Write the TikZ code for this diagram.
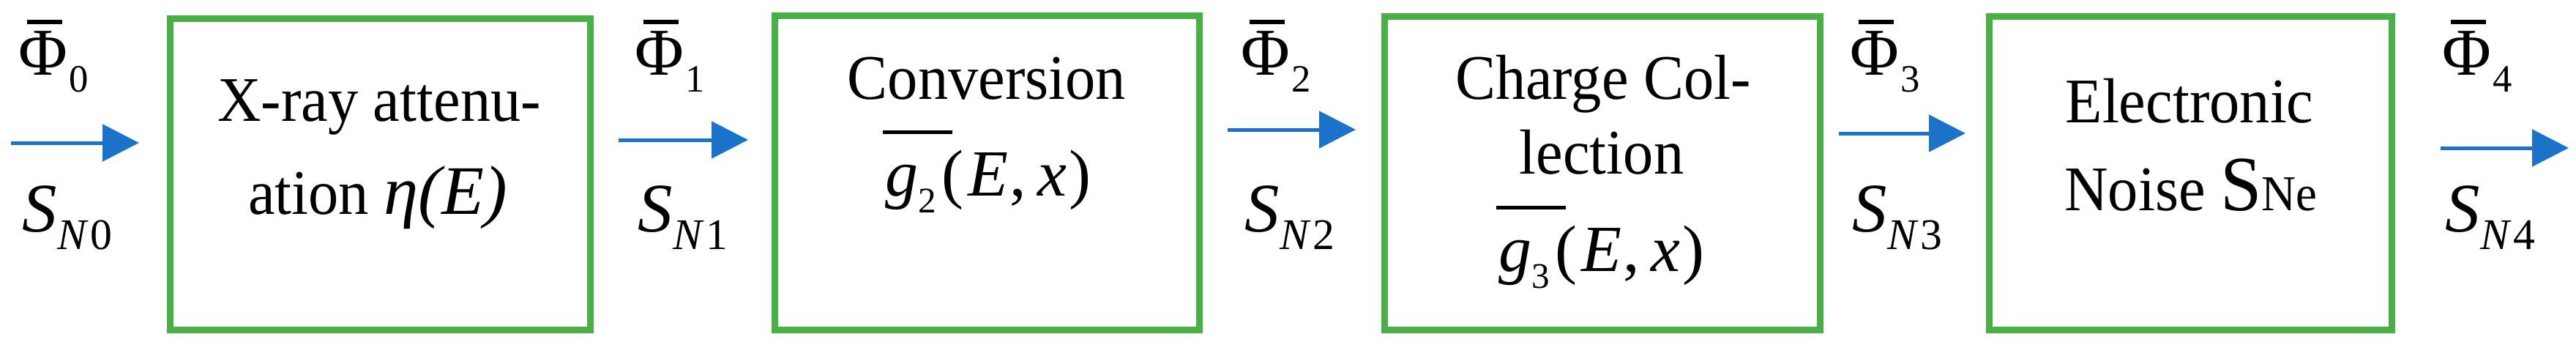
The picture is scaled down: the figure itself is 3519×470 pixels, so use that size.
\documentclass[tikz,border=0pt]{standalone}
\usepackage{fontspec}
\setmainfont{Liberation Serif}
\newfontfamily\boxfont{Liberation Serif}[FakeStretch=0.95]
\usetikzlibrary{arrows.meta}
\definecolor{boxgreen}{RGB}{72,176,68}
\definecolor{arrblue}{RGB}{26,115,200}
\newcommand{\myPhi}[1]{\rlap{\hspace{1.1mm}\rule[6.9mm]{4.8mm}{0.6mm}}Φ\raisebox{-2.3mm}{\fontsize{15pt}{15pt}\selectfont\hspace{0.2mm}#1}}
\newcommand{\myS}[1]{\textit{S}\raisebox{-2.4mm}{\fontsize{17pt}{17pt}\selectfont\textit{N}\hspace{0.3mm}#1}}
\newcommand{\myG}[1]{\rlap{\hspace{-0.4mm}\rule[8.4mm]{9.5mm}{0.55mm}}\textit{g}\raisebox{-2.3mm}{\fontsize{14pt}{14pt}\selectfont #1}\hspace{0.7mm}(\hspace{0.6mm}\textit{E}\hspace{0.2mm},\hspace{1.6mm}\textit{x}\hspace{0.3mm})}
\tikzset{
  stage/.style={draw=boxgreen, line width=0.9mm, inner sep=0pt, minimum height=42.8mm},
  boxtxt/.style={anchor=base, inner sep=0pt, font=\boxfont\fontsize{24.7pt}{24.7pt}\selectfont},
  mathtxt/.style={anchor=base, inner sep=0pt, font=\fontsize{25.6pt}{25.6pt}\selectfont},
  philbl/.style={anchor=base west, inner sep=0pt, font=\fontsize{26pt}{26pt}\selectfont},
  slbl/.style={anchor=base west, inner sep=0pt, font=\fontsize{27pt}{27pt}\selectfont},
  flow/.style={draw=arrblue, line width=0.5mm, -{Triangle[length=5mm,width=5mm]}}
}
\begin{document}
\begin{tikzpicture}[x=0.1mm,y=-0.1mm]
\useasboundingbox (0,0) rectangle (3519,470);
% boxes
\node[stage, minimum width=57.4mm, minimum height=42.45mm] (b1) at (519,237.75) {};
\node[stage, minimum width=58.0mm, minimum height=42.85mm] (b2) at (1348,235.75) {};
\node[stage, minimum width=59.5mm] (b3) at (2188.5,236) {};
\node[stage, minimum width=55.0mm] (b4) at (2992,236) {};
% box texts
\node[boxtxt] (t1a) at (518,165) {X-ray attenu-};
\node[boxtxt] (t1b) at (516,292) {ation {\rmfamily\itshape\fontsize{27pt}{27pt}\selectfont η(E)}};
\node[boxtxt] (t2a) at (1348,135) {Conversion};
\node[mathtxt] (t2b) at (1350,267) {\myG{2}};
\node[boxtxt] (t3a) at (2190,135) {Charge Col-};
\node[boxtxt] (t3b) at (2188,237) {lection};
\node[mathtxt] (t3c) at (2188,370) {\myG{3}};
\node[boxtxt] (t4a) at (2991,167) {Electronic};
\node[boxtxt] (t4b) at (2993,287) {Noise {\fontsize{30.4pt}{30pt}\selectfont S}{\fontsize{19.5pt}{20pt}\selectfont Ne}};
% flow labels
\node[philbl] (p0) at (25,102) {\myPhi{0}};
\node[philbl] (p1) at (867,102) {\myPhi{1}};
\node[philbl] (p2) at (1695,102) {\myPhi{2}};
\node[philbl] (p3) at (2527,102) {\myPhi{3}};
\node[philbl] (p4) at (3336,102) {\myPhi{4}};
\node[slbl] (s0) at (30,316) {\myS{0}};
\node[slbl] (s1) at (871,316) {\myS{1}};
\node[slbl] (s2) at (1700,316) {\myS{2}};
\node[slbl] (s3) at (2530,316) {\myS{3}};
\node[slbl] (s4) at (3340,316) {\myS{4}};
% arrow ends
\coordinate (a0s) at (15,195);   \coordinate (a0e) at (190,195);
\coordinate (a1s) at (845,191);  \coordinate (a1e) at (1022,191);
\coordinate (a2s) at (1677,177); \coordinate (a2e) at (1852,177);
\coordinate (a3s) at (2512,182); \coordinate (a3e) at (2685,182);
\coordinate (a4s) at (3334,202); \coordinate (a4e) at (3509,202);
\draw[flow] (a0s) -- (a0e);
\draw[flow] (a1s) -- (a1e);
\draw[flow] (a2s) -- (a2e);
\draw[flow] (a3s) -- (a3e);
\draw[flow] (a4s) -- (a4e);
\end{tikzpicture}
\end{document}
